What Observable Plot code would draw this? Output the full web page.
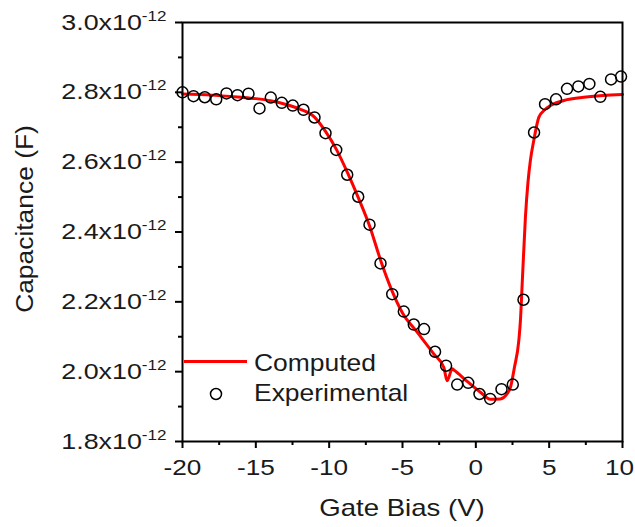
<!DOCTYPE html>
<html><head><meta charset="utf-8">
<script src="https://cdn.jsdelivr.net/npm/d3@7"></script>
<script src="https://cdn.jsdelivr.net/npm/@observablehq/plot@0.6"></script>
<style>body{margin:0;background:#fff}</style>
</head><body><div id="chart"></div>
<script>
// Experimental points: gate bias (V), capacitance (x10^-12 F)
const expBias = [-20,-19.25,-18.48,-17.7,-17.0,-16.25,-15.5,-14.75,-13.98,-13.23,-12.48,-11.75,-11.0,-10.25,-9.52,-8.77,-8.02,-7.25,-6.5,-5.7,-4.91,-4.23,-3.53,-2.78,-2.03,-1.27,-0.52,0.25,0.98,1.75,2.52,3.25,3.97,4.72,5.47,6.22,6.99,7.74,8.49,9.22,9.9];
const expCap = [2.800,2.789,2.786,2.780,2.797,2.792,2.796,2.754,2.785,2.770,2.762,2.750,2.728,2.683,2.635,2.564,2.501,2.421,2.310,2.222,2.172,2.135,2.122,2.057,2.017,1.963,1.968,1.936,1.922,1.950,1.963,2.206,2.685,2.766,2.780,2.810,2.817,2.824,2.787,2.837,2.845];
// Computed curve
const compBias = [-20,-18,-16,-15,-14,-13,-12,-11,-10.25,-9.5,-8.75,-8.0,-7.25,-6.5,-5.75,-5.0,-4.0,-2.87,-2.18,-1.96,-1.61,-1.5,-0.59,0.31,0.99,1.67,2.1,2.36,2.63,2.93,3.04,3.16,3.38,3.55,3.72,3.95,4.3,4.7,5.09,6.22,7.36,10];
const compCap = [2.795,2.792,2.786,2.782,2.776,2.766,2.752,2.729,2.688,2.636,2.570,2.497,2.418,2.320,2.235,2.168,2.113,2.051,2.012,1.974,2.008,2.005,1.972,1.941,1.921,1.922,1.935,1.955,2.012,2.089,2.146,2.251,2.442,2.540,2.605,2.662,2.729,2.750,2.762,2.779,2.786,2.794];
const xTicks = [-20,-15,-10,-5,0,5,10];
const xMinor = [-17.5,-12.5,-7.5,-2.5,2.5,7.5];
const yTicks = [1.8,2.0,2.2,2.4,2.6,2.8,3.0];
const yMinor = [1.9,2.1,2.3,2.5,2.7,2.9];
const yExponent = "-12";
const xTitle = "Gate Bias (V)";
const yTitle = "Capacitance (F)";
const legendLabels = ["Computed","Experimental"];

const exp = expBias.map((v,i)=>({v, c: expCap[i]}));
const comp = compBias.map((v,i)=>({v, c: compCap[i]}));

const FONT = '"Liberation Sans", Arial, sans-serif';
const INK = "#1a1a1a";
const plot = Plot.plot({
  width: 635, height: 527,
  marginLeft: 182, marginRight: 13, marginTop: 22, marginBottom: 86,
  style: {fontFamily: FONT, background: "white", color: INK},
  x: {domain: [-20, 10]},
  y: {domain: [1.8, 3.0]},
  marks: [
    Plot.line(comp, {x: "v", y: "c", stroke: "#ff0000", strokeWidth: 3, curve: "monotone-x"}),
    Plot.dot(exp, {x: "v", y: "c", r: 5.5, stroke: "#000", strokeWidth: 1.5, fill: "none"}),
    Plot.frame({stroke: "#000", strokeWidth: 2}),
    Plot.axisX({ticks: xTicks, tickSize: 7, tickPadding: 11, strokeWidth: 2, stroke: "#000", fontSize: 22, label: null, tickFormat: d => String(d)}),
    Plot.axisX({ticks: xMinor, tickSize: 4, strokeWidth: 2, stroke: "#000", label: null, tickFormat: () => ""}),
    Plot.axisY({ticks: yTicks, tickSize: 7, tickPadding: 9, strokeWidth: 2, stroke: "#000", fontSize: 22, label: null, tickFormat: d => d.toFixed(1) + "x10"}),
    Plot.axisY({ticks: yMinor, tickSize: 4, strokeWidth: 2, stroke: "#000", label: null, tickFormat: () => ""})
  ]
});

const svg = d3.select(plot);
// widen tick label glyphs like the original font
function stretch(el, sx) {
  const t = el.getAttribute("transform");
  if (t) el.setAttribute("transform", t + ` scale(${sx},1)`);
  else {
    const x = +el.getAttribute("x") || 0, y = +el.getAttribute("y") || 0;
    el.removeAttribute("x"); el.removeAttribute("y");
    el.setAttribute("transform", `translate(${x},${y}) scale(${sx},1)`);
  }
}
const lastX = String(xTicks[xTicks.length - 1]);
svg.selectAll('g[aria-label="x-axis tick label"] text').each(function(){
  stretch(this, 1.19);
  if (this.textContent === lastX) this.setAttribute("dx", -2.5);
});
svg.selectAll('g[aria-label="y-axis tick label"] text').each(function(){
  if (this.textContent) {
    d3.select(this).append("tspan").attr("dy", -9).attr("font-size", 14).text(yExponent);
  }
  stretch(this, 1.22);
});

function addText(x, y, str, size, anchor, sx, rot) {
  const t = svg.append("text")
    .attr("transform", `translate(${x},${y})${rot ? ` rotate(${rot})` : ""} scale(${sx},1)`)
    .attr("text-anchor", anchor).attr("font-size", size).attr("font-family", FONT).attr("fill", INK)
    .text(str);
  return t;
}
addText(402, 516, xTitle, 23, "middle", 1.2, 0);
addText(33, 219, yTitle, 24, "middle", 1.1, -90);

// legend
svg.append("line").attr("x1", 184).attr("x2", 247).attr("y1", 361.5).attr("y2", 361.5)
  .attr("stroke", "#ff0000").attr("stroke-width", 3);
addText(254, 370.5, legendLabels[0], 23, "start", 1.15, 0);
svg.append("circle").attr("cx", 216).attr("cy", 394).attr("r", 5.5)
  .attr("fill", "none").attr("stroke", "#000").attr("stroke-width", 1.5);
addText(254, 400.5, legendLabels[1], 23, "start", 1.15, 0);

document.getElementById("chart").appendChild(plot);
</script>
</body></html>
